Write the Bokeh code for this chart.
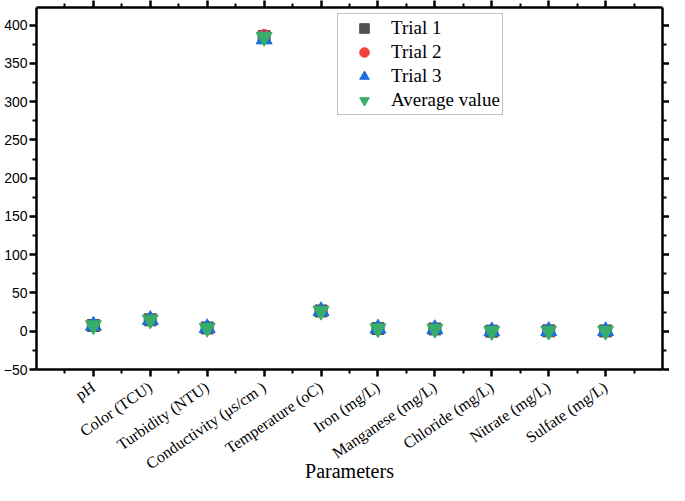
from bokeh.plotting import figure
from bokeh.models import FixedTicker, LinearAxis, Range1d, Legend, LegendItem, CustomJSTickFormatter
from bokeh.embed import file_html
from bokeh.resources import INLINE

categories = ["pH", "Color (TCU)", "Turbidity (NTU)", "Conductivity (\u03bcs/cm )",
              "Temperature (oC)", "Iron (mg/L)", "Manganese (mg/L)", "Chloride (mg/L)",
              "Nitrate (mg/L)", "Sulfate (mg/L)"]
trial1 = [7.5, 15.0, 4.3, 385.0, 26.5, 3.5, 3.0, 0.1, 0.5, 0.4]
trial2 = [7.6, 15.2, 4.2, 386.5, 26.7, 3.4, 3.1, 0.1, 0.5, 0.4]
trial3 = [7.4, 14.9, 4.3, 381.5, 26.4, 3.6, 2.9, 0.0, 0.4, 0.3]
average = [7.5, 15.0, 4.3, 384.3, 26.5, 3.5, 3.0, 0.1, 0.5, 0.4]
y_ticks = [-50, 0, 50, 100, 150, 200, 250, 300, 350, 400]

xs = [i + 1 for i in range(len(categories))]
x_minor = [i + 0.5 for i in range(len(categories) + 1)]
y_minor = [t + 25 for t in y_ticks]

p = figure(width=669, height=485, x_range=Range1d(0, len(categories) + 1),
           y_range=Range1d(-50, 423), output_backend="svg", toolbar_location=None,
           min_border_left=36, min_border_right=0, min_border_top=4, min_border_bottom=0,
           outline_line_color=None, background_fill_color="white", border_fill_color="white")
p.xgrid.visible = False
p.ygrid.visible = False

xt = FixedTicker(ticks=xs, minor_ticks=x_minor)
yt = FixedTicker(ticks=y_ticks, minor_ticks=y_minor)

def style(ax):
    ax.axis_line_width = 2.5
    ax.axis_line_color = "black"
    ax.major_tick_line_width = 2.5
    ax.minor_tick_line_width = 2
    ax.major_tick_in = 0
    ax.major_tick_out = 7
    ax.minor_tick_in = 0
    ax.minor_tick_out = 4

xa = p.xaxis[0]
xa.ticker = xt
xa.major_label_overrides = {x: c for x, c in zip(xs, categories)}
xa.major_label_orientation = 0.6
xa.major_label_text_font = "Liberation Serif"
xa.major_label_text_font_size = "16px"
xa.major_label_text_color = "black"
xa.major_label_standoff = 9
xa.axis_label = "Parameters"
xa.axis_label_text_font = "Liberation Serif"
xa.axis_label_text_font_size = "20px"
xa.axis_label_text_font_style = "normal"
xa.axis_label_text_color = "black"
xa.axis_label_standoff = -22
style(xa)

ya = p.yaxis[0]
ya.ticker = yt
ya.major_label_text_font = "Liberation Sans"
ya.major_label_text_font_size = "14px"
ya.major_label_text_color = "black"
ya.major_label_standoff = 2
style(ya)

empty = CustomJSTickFormatter(code="return ''")
top = LinearAxis(ticker=xt, formatter=empty, major_label_standoff=0, major_label_text_font_size="1px")
style(top)
p.add_layout(top, "above")
right = LinearAxis(ticker=yt, formatter=empty, major_label_standoff=0, major_label_text_font_size="1px")
style(right)
p.add_layout(right, "right")

r1 = p.scatter(xs, trial1, marker="square", size=12, fill_color="#515151", line_color="#515151")
r2 = p.scatter(xs, trial2, marker="circle", size=12, fill_color="#F14040", line_color="#F14040")
r3 = p.scatter(xs, trial3, marker="triangle", size=16, fill_color="#1A6FDF", line_color="#1A6FDF")
r4 = p.scatter(xs, average, marker="inverted_triangle", size=16, fill_color="#37AD6B", line_color="#37AD6B")

legend = Legend(items=[LegendItem(label="Trial 1", renderers=[r1]),
                       LegendItem(label="Trial 2", renderers=[r2]),
                       LegendItem(label="Trial 3", renderers=[r3]),
                       LegendItem(label="Average value", renderers=[r4])],
                location=(301, 254), label_text_font="Liberation Serif", label_text_font_size="19px",
                label_text_color="black", border_line_color="#888888", border_line_width=1,
                background_fill_color="white", background_fill_alpha=1, padding=2, spacing=0,
                label_height=20, glyph_height=24, glyph_width=48, label_standoff=3, margin=0)
p.add_layout(legend)

open("out.html", "w").write(file_html(p, INLINE))
